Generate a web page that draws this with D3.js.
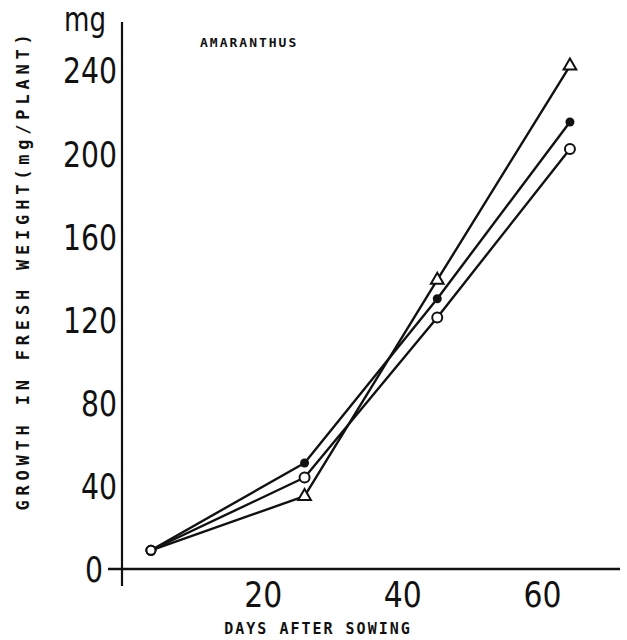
<!DOCTYPE html>
<html>
<head>
<meta charset="utf-8">
<script src="https://cdn.jsdelivr.net/npm/d3@7"></script>
<style>
  body { margin: 0; background: #fff; }
  svg { display: block; }
  .num { font-family: "DejaVu Sans", "Liberation Sans", sans-serif; font-size: 36px; fill: #111; }
  .type { font-family: "DejaVu Sans Mono", "Liberation Mono", monospace; font-weight: bold; fill: #111; }
</style>
</head>
<body>
<script>
// days after sowing
const days = [4, 26, 45, 64]
// fresh weight, mg/plant
const filledDots = [9, 51, 130, 215]
const openCircles = [9, 44, 121, 202]
const openTriangles = [9, 35, 139, 242]
const xTicks = [20, 40, 60]
const yTicks = [0, 40, 80, 120, 160, 200, 240]

const W = 627, H = 640
const svg = d3.select('body').append('svg').attr('width', W).attr('height', H)

const x = d3.scaleLinear().domain([0, 60]).range([123, 542])
const y = d3.scaleLinear().domain([0, 240]).range([569, 70])

// axis lines (hand-ruled look)
svg.append('line').attr('x1', 108).attr('x2', 620).attr('y1', y(0)).attr('y2', y(0))
  .attr('stroke', '#111').attr('stroke-width', 2.6)
svg.append('line').attr('x1', x(0) - 1).attr('x2', x(0) - 1).attr('y1', 22).attr('y2', 586)
  .attr('stroke', '#111').attr('stroke-width', 2.2)

// tall narrow typewriter digits
const narrow = (sel, per) => sel
  .attr('textLength', function () { return this.textContent.length * per })
  .attr('lengthAdjust', 'spacingAndGlyphs')

// y axis
const yAxis = svg.append('g').attr('transform', `translate(${x(0) - 4},0)`)
  .call(d3.axisLeft(y).tickValues(yTicks).tickSize(0).tickPadding(2).tickFormat(d3.format('d')))
yAxis.select('.domain').remove()
yAxis.selectAll('text').attr('class', 'num').attr('font-family', null).attr('font-size', null)
  .attr('dy', '0.36em')
  .attr('x', d => d === 0 ? -16 : -2)
  .call(narrow, 18)

// x axis
const xAxis = svg.append('g').attr('transform', `translate(0,${y(0)})`)
  .call(d3.axisBottom(x).tickValues(xTicks).tickSize(0).tickPadding(12))
xAxis.select('.domain').remove()
xAxis.selectAll('text').attr('class', 'num').attr('font-family', null).attr('font-size', null)
  .attr('dy', '0.71em')
  .call(narrow, 19)

// unit
svg.append('text').attr('class', 'num').attr('x', 64).attr('y', 31)
  .style('font-size', '33px').text('mg').call(narrow, 21)

// titles
svg.append('text').attr('class', 'type').attr('x', 318).attr('y', 634)
  .attr('text-anchor', 'middle').style('font-size', '15px').style('letter-spacing', '2px')
  .text('DAYS AFTER SOWING')
svg.append('text').attr('class', 'type')
  .attr('transform', `translate(29,270) rotate(-90)`)
  .attr('text-anchor', 'middle').style('font-size', '17px').style('letter-spacing', '4.8px')
  .text('GROWTH IN FRESH WEIGHT(mg/PLANT)')
svg.append('text').attr('class', 'type').attr('x', 200).attr('y', 47)
  .style('font-size', '13px').style('letter-spacing', '2px').text('AMARANTHUS')

// lines
const line = d3.line().x((d, i) => x(days[i])).y(d => y(d))
const series = [
  { vals: openTriangles, mark: 'tri' },
  { vals: filledDots, mark: 'dot' },
  { vals: openCircles, mark: 'circ' }
]
series.forEach(s => {
  svg.append('path').attr('d', line(s.vals)).attr('fill', 'none')
    .attr('stroke', '#111').attr('stroke-width', 2.4).attr('stroke-linejoin', 'round')
})

// markers
series.forEach(s => {
  const g = svg.append('g')
  s.vals.forEach((v, i) => {
    const cx = x(days[i]), cy = y(v)
    if (i === 0) {
      g.append('circle').attr('cx', cx).attr('cy', cy).attr('r', 4.5)
        .attr('fill', '#fff').attr('stroke', '#111').attr('stroke-width', 2)
      return
    }
    if (s.mark === 'circ') {
      g.append('circle').attr('cx', cx).attr('cy', cy).attr('r', 5)
        .attr('fill', '#fff').attr('stroke', '#111').attr('stroke-width', 2)
    } else if (s.mark === 'dot') {
      g.append('circle').attr('cx', cx).attr('cy', cy).attr('r', 4.5).attr('fill', '#111')
    } else {
      g.append('path').attr('transform', `translate(${cx},${cy})`)
        .attr('d', d3.symbol(d3.symbolTriangle, 70)())
        .attr('fill', '#fff').attr('stroke', '#111').attr('stroke-width', 2)
    }
  })
})
</script>
</body>
</html>
